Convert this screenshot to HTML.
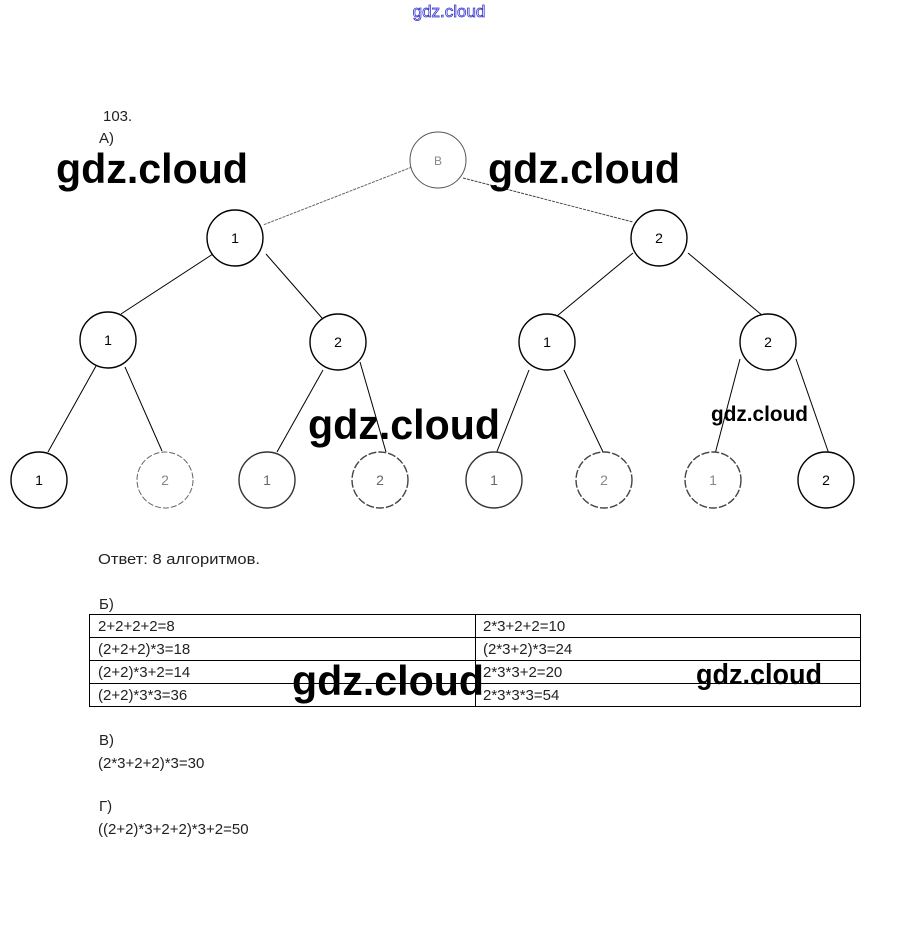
<!DOCTYPE html>
<html><head><meta charset="utf-8"><style>
html,body{margin:0;padding:0;background:#fff;width:898px;height:943px;overflow:hidden}
svg{display:block}
.t{font-family:"Liberation Sans","DejaVu Sans",sans-serif;font-size:15px;fill:#222}
.w{font-family:"Liberation Sans",sans-serif;font-weight:bold;fill:#000}
.n{font-family:"Liberation Sans",sans-serif;font-size:14px;text-anchor:middle}
</style></head><body>
<svg width="898" height="943" viewBox="0 0 898 943" xmlns="http://www.w3.org/2000/svg">
<text x="449" y="17" text-anchor="middle" font-family="Liberation Sans,sans-serif" font-size="17" fill="none" stroke="#3333cc" stroke-width="0.8">gdz.cloud</text>
<text x="103" y="121" class="t">103.</text>
<text x="99" y="143" class="t">А)</text>
<g stroke="#000" stroke-width="1" fill="none">
<line x1="412" y1="167" x2="263" y2="225" stroke="#666" stroke-dasharray="3,1"/>
<line x1="463" y1="178" x2="633" y2="222" stroke="#444" stroke-dasharray="3,1"/>
<line x1="213" y1="254" x2="121" y2="314"/>
<line x1="266" y1="254" x2="322" y2="318"/>
<line x1="96" y1="366" x2="48" y2="452"/>
<line x1="125" y1="367" x2="162" y2="451"/>
<line x1="323" y1="370" x2="277" y2="452"/>
<line x1="360" y1="362" x2="386" y2="452"/>
<line x1="633" y1="253" x2="557" y2="316"/>
<line x1="688" y1="253" x2="763" y2="316"/>
<line x1="529" y1="370" x2="496" y2="454"/>
<line x1="564" y1="370" x2="604" y2="454"/>
<line x1="740" y1="359" x2="715" y2="454"/>
<line x1="796" y1="359" x2="829" y2="454"/>
</g>
<g stroke="#000" fill="#fff" stroke-width="1.4">
<circle cx="438" cy="160" r="28" stroke="#555" stroke-width="1"/>
<circle cx="235" cy="238" r="28"/>
<circle cx="659" cy="238" r="28"/>
<circle cx="108" cy="340" r="28"/>
<circle cx="338" cy="342" r="28"/>
<circle cx="547" cy="342" r="28"/>
<circle cx="768" cy="342" r="28"/>
<circle cx="39" cy="480" r="28"/>
<circle cx="165" cy="480" r="28" stroke="#666" stroke-width="1" stroke-dasharray="6,2"/>
<circle cx="267" cy="480" r="28" stroke="#333"/>
<circle cx="380" cy="480" r="28" stroke="#444" stroke-dasharray="8,2"/>
<circle cx="494" cy="480" r="28" stroke="#333"/>
<circle cx="604" cy="480" r="28" stroke="#444" stroke-dasharray="8,2"/>
<circle cx="713" cy="480" r="28" stroke="#444" stroke-dasharray="8,2"/>
<circle cx="826" cy="480" r="28"/>
</g>
<g class="n">
<text x="438" y="165" fill="#888" font-size="12">B</text>
<text x="235" y="243">1</text><text x="659" y="243">2</text>
<text x="108" y="345">1</text><text x="338" y="347">2</text>
<text x="547" y="347">1</text><text x="768" y="347">2</text>
<text x="39" y="485">1</text><text x="165" y="485" fill="#888">2</text>
<text x="267" y="485" fill="#666">1</text><text x="380" y="485" fill="#666">2</text>
<text x="494" y="485" fill="#666">1</text><text x="604" y="485" fill="#888">2</text>
<text x="713" y="485" fill="#888">1</text><text x="826" y="485">2</text>
</g>
<text x="56" y="183" class="w" font-size="42" textLength="192" lengthAdjust="spacingAndGlyphs">gdz.cloud</text>
<text x="488" y="183" class="w" font-size="42" textLength="192" lengthAdjust="spacingAndGlyphs">gdz.cloud</text>
<text x="308" y="439" class="w" font-size="42" textLength="192" lengthAdjust="spacingAndGlyphs">gdz.cloud</text>
<text x="711" y="421" class="w" font-size="21" textLength="97" lengthAdjust="spacingAndGlyphs">gdz.cloud</text>
<text x="98" y="564" class="t" textLength="162" lengthAdjust="spacingAndGlyphs">Ответ: 8 алгоритмов.</text>
<text x="99" y="609" class="t">Б)</text>
<g stroke="#000" stroke-width="1" fill="none">
<rect x="89.5" y="614.5" width="771" height="92"/>
<line x1="89" y1="637.5" x2="861" y2="637.5"/>
<line x1="89" y1="660.5" x2="861" y2="660.5"/>
<line x1="89" y1="683.5" x2="861" y2="683.5"/>
<line x1="475.5" y1="614" x2="475.5" y2="707"/>
</g>
<text x="98" y="631" class="t">2+2+2+2=8</text>
<text x="98" y="654" class="t">(2+2+2)*3=18</text>
<text x="98" y="677" class="t">(2+2)*3+2=14</text>
<text x="98" y="700" class="t">(2+2)*3*3=36</text>
<text x="483" y="631" class="t">2*3+2+2=10</text>
<text x="483" y="654" class="t">(2*3+2)*3=24</text>
<text x="483" y="677" class="t">2*3*3+2=20</text>
<text x="483" y="700" class="t">2*3*3*3=54</text>
<text x="292" y="695" class="w" font-size="42" textLength="192" lengthAdjust="spacingAndGlyphs">gdz.cloud</text>
<text x="696" y="684" class="w" font-size="29" textLength="126" lengthAdjust="spacingAndGlyphs">gdz.cloud</text>
<text x="99" y="745" class="t">В)</text>
<text x="98" y="768" class="t">(2*3+2+2)*3=30</text>
<text x="99" y="811" class="t">Г)</text>
<text x="98" y="834" class="t">((2+2)*3+2+2)*3+2=50</text>
</svg>
</body></html>
